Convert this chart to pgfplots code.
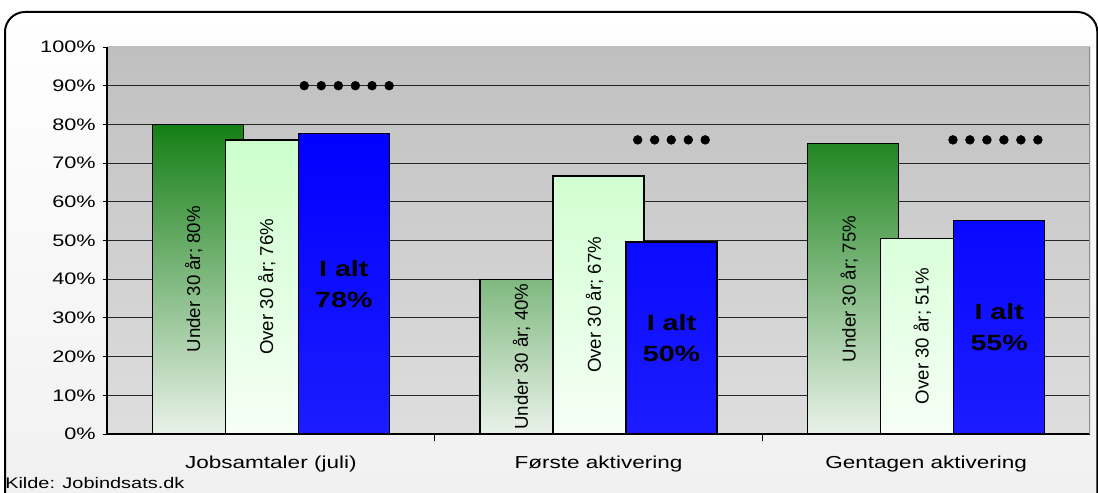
\documentclass[border=0pt]{standalone}
\usepackage{pgfplots}
\pgfplotsset{compat=1.18}
\usepackage{fontspec}
\setmainfont{Liberation Sans}[FakeStretch=1.3]
\newfontfamily\rotfont{Liberation Sans}

\definecolor{dkgreen}{RGB}{21,127,21}
\definecolor{palegreen}{RGB}{234,242,234}
\definecolor{ltgreen}{RGB}{204,255,204}
\definecolor{ltgreenb}{RGB}{246,255,246}
\definecolor{barblue}{RGB}{0,0,255}
\definecolor{barblueb}{RGB}{28,28,255}

\begin{document}
\begin{tikzpicture}
% picture is 1098x492 px, 1px = 0.75pt
\path[use as bounding box] (0,0) rectangle (823.5pt,369pt);
\draw[line width=1.5pt, rounded corners=15pt, top color=white, bottom color=black!6]
  (3.75pt,-30pt) rectangle (823pt,360pt);

\begin{axis}[
  at={(80.25pt,43.5pt)}, anchor=south west,
  scale only axis, width=737.25pt, height=290.25pt,
  xmin=-0.5, xmax=2.5, ymin=0, ymax=100,
  axis x line=bottom, axis y line=left,
  axis line style={-, line width=0.8pt, black},
  axis background/.style={top color=black!25, bottom color=black!13},
  tick align=outside,
  major tick length=3pt,
  tick style={black, line width=0.6pt},
  ytick={0,10,...,90},
  yticklabels={0\%,10\%,20\%,30\%,40\%,50\%,60\%,70\%,80\%,90\%},
  extra y ticks={100}, extra y tick labels={100\%},
  extra y tick style={grid=none},
  ymajorgrids, major grid style={black!85, line width=0.6pt},
  xtick={0,1,2},
  xticklabels={Jobsamtaler (juli),Første aktivering,Gentagen aktivering},
  major x tick style={draw=none},
  minor xtick={0.5,1.5}, minor tick length=5pt,
  ticklabel style={font=\fontsize{12.5}{15}\selectfont},
  xticklabel style={yshift=-10pt, font=\fontsize{13}{15}\selectfont},
  yticklabel style={xshift=-2pt},
  point meta=explicit symbolic,
  visualization depends on={y \as \rawy},
]
\draw[black!45, line width=0.8pt] (rel axis cs:1,0) -- (rel axis cs:1,1);

% Under 30 aar
\addplot[ybar, bar width=68.25pt, bar shift=-54.75pt, draw=black, line width=1pt,
  top color=dkgreen, bottom color=palegreen,
  nodes near coords={\rotfont Under 30 år; \pgfplotspointmeta\%},
  every node near coord/.append style={yshift={-1.45125pt*\rawy}, xshift=-57.75pt, rotate=90, anchor=center,
    font=\fontsize{14}{16}\selectfont, text=black}]
  coordinates {(0,80) [80] (1,40) [40] (2,75) [75]};

% Over 30 aar
\addplot[ybar, bar width=68.25pt, bar shift=0pt, draw=black, line width=1pt,
  top color=ltgreen, bottom color=ltgreenb,
  nodes near coords={\rotfont Over 30 år; \pgfplotspointmeta\%},
  every node near coord/.append style={yshift={-1.45125pt*\rawy}, xshift=-3pt, rotate=90, anchor=center,
    font=\fontsize{14}{16}\selectfont, text=black}]
  coordinates {(0,76) [76] (1,66.7) [67] (2,50.6) [51]};

% I alt
\addplot[ybar, bar width=68.25pt, bar shift=54.75pt, draw=black, line width=1pt,
  top color=barblue, bottom color=barblueb,
  nodes near coords={I alt\\\pgfplotspointmeta\%},
  every node near coord/.append style={yshift={-1.45125pt*\rawy}, xshift=54.75pt, anchor=center, align=center,
    font=\fontsize{16.5}{23}\selectfont\bfseries, text=black}]
  coordinates {(0,77.6) [78] (1,49.6) [50] (2,55.1) [55]};

% markers
\addplot[only marks, mark=*, mark size=3.3pt, black, point meta=none]
  coordinates {(0.102,90) (0.154,90) (0.206,90) (0.258,90) (0.309,90) (0.361,90)
    (1.1195,76) (1.1713,76) (1.222,76) (1.274,76) (1.3256,76)
    (2.0817,76) (2.1335,76) (2.1854,76) (2.2372,76) (2.2890,76) (2.3409,76)};
\end{axis}

\node[anchor=base west, inner sep=0pt, font=\fontsize{11.5}{13}\selectfont] at (3.75pt,2.25pt) {Kilde: Jobindsats.dk};
\end{tikzpicture}
\end{document}
